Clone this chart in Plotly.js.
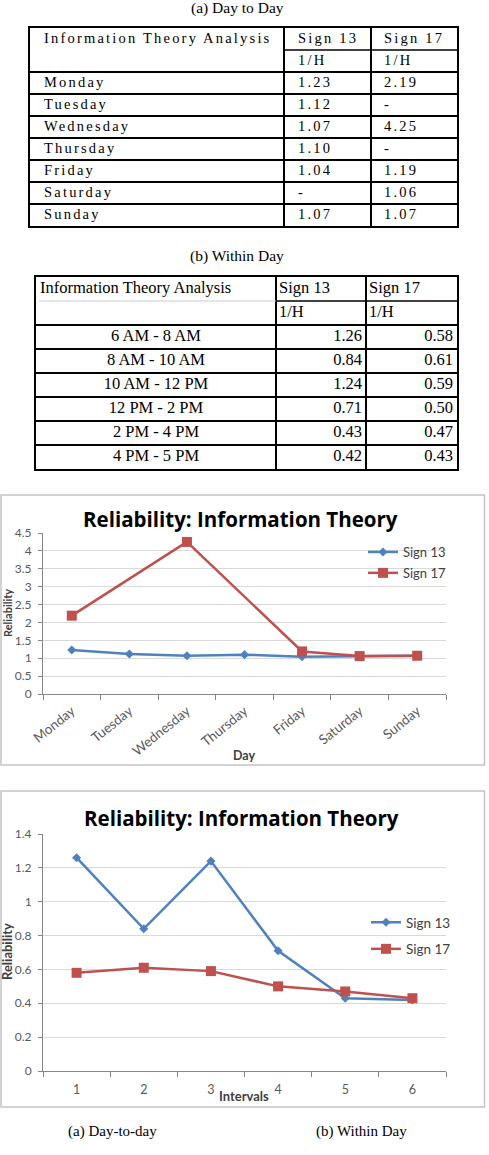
<!DOCTYPE html>
<html><head><meta charset="utf-8">
<script src="https://cdn.plot.ly/plotly-3.0.1.min.js"></script>
<style>
html,body{margin:0;padding:0;background:#fff;}
#chart{width:489px;height:1155px;}
.subplot.x3y3 .textpoint text{letter-spacing:2.2px;}
</style></head><body><div id="chart"></div>
<script>
// ---------- data ----------
const days = ['Monday','Tuesday','Wednesday','Thursday','Friday','Saturday','Sunday'];
const daySign13 = [1.23, 1.12, 1.07, 1.10, 1.04, null, 1.07];
const daySign17 = [2.19, null, 4.25, null, 1.19, 1.06, 1.07];
const intervalLabels = ['6 AM - 8 AM','8 AM - 10 AM','10 AM - 12 PM','12 PM - 2 PM','2 PM - 4 PM','4 PM - 5 PM'];
const intervalTicks = ['1','2','3','4','5','6'];
const intervalSign13 = [1.26, 0.84, 1.24, 0.71, 0.43, 0.42];
const intervalSign17 = [0.58, 0.61, 0.59, 0.50, 0.47, 0.43];
const tableHeaders = ['Information Theory Analysis','Sign 13','Sign 17'];
const unitLabel = '1/H';
const seriesNames = ['Sign 13','Sign 17'];
const chartTitle = 'Reliability: Information Theory';
const yTitle = 'Reliability';
const xTitleDay = 'Day';
const xTitleInterval = 'Intervals';
const tableTitles = ['(a) Day to Day','(b) Within Day'];
const captions = ['(a) Day-to-day','(b) Within Day'];

// ---------- styling helpers ----------
const W = 489, H = 1155;
const px = p => p / W;
const py = p => 1 - p / H;
const SERIF = 'Liberation Serif, Times New Roman, serif';
const SANS = 'Lato, Calibri, Carlito, sans-serif';
const TITLE = 'Open Sans, Calibri, sans-serif';
const BLUE = '#4F81BD', RED = '#C0504D';
const fmt = v => (v === null || v === undefined) ? '-' : v.toFixed(2);

// table geometry (in table-axis units = px)
const t1 = {cols:[0,254,341,427], pad:14};
const t2 = {cols:[0,240,330,421], pad:4};

const traces = [];
const txt = (x, y, text, pos, ax, font) => ({
  type:'scatter', mode:'text', x, y, text, textposition:pos,
  textfont:font, xaxis:'x'+ax, yaxis:'y'+ax, showlegend:false, hoverinfo:'skip', cliponaxis:false
});
const f1 = {family:SERIF, size:14.5, color:'#000'};
const f2 = {family:SERIF, size:16.5, color:'#000'};

// Table 1
const rows1 = days.map((d,i)=>i+2.5);
traces.push(txt([t1.pad, ...days.map(()=>t1.pad)], [0.5, ...rows1], [tableHeaders[0], ...days], 'middle right', 3, f1));
traces.push(txt([0,0, ...days].map(()=>t1.cols[1]+t1.pad), [0.5,1.5, ...rows1], [tableHeaders[1], unitLabel, ...daySign13.map(fmt)], 'middle right', 3, f1));
traces.push(txt([0,0, ...days].map(()=>t1.cols[2]+t1.pad-1), [0.5,1.5, ...rows1], [tableHeaders[2], unitLabel, ...daySign17.map(fmt)], 'middle right', 3, f1));

// Table 2
const rows2 = intervalLabels.map((d,i)=>i+2.5);
traces.push(txt([t2.pad], [0.5], [tableHeaders[0]], 'middle right', 4, f2));
traces.push(txt(intervalLabels.map(()=>t2.cols[1]/2), rows2, intervalLabels, 'middle center', 4, f2));
traces.push(txt([t2.cols[1]+3, t2.cols[1]+3], [0.5,1.5], [tableHeaders[1], unitLabel], 'middle right', 4, f2));
traces.push(txt(intervalLabels.map(()=>t2.cols[2]-t2.pad), rows2, intervalSign13.map(fmt), 'middle left', 4, f2));
traces.push(txt([t2.cols[2]+3, t2.cols[2]+3], [0.5,1.5], [tableHeaders[2], unitLabel], 'middle right', 4, f2));
traces.push(txt(intervalLabels.map(()=>t2.cols[3]-t2.pad), rows2, intervalSign17.map(fmt), 'middle left', 4, f2));

// Charts
const s13 = (x, y, xa, ya, lg) => ({type:'scatter', mode:'lines+markers', x, y, name:seriesNames[0], connectgaps:true,
  line:{color:BLUE, width:2.5}, marker:{symbol:'diamond', size:7, color:BLUE},
  xaxis:xa, yaxis:ya, legend:lg, legendgroup:lg+'a', hoverinfo:'skip'});
const s17 = (x, y, xa, ya, lg) => ({type:'scatter', mode:'lines+markers', x, y, name:seriesNames[1], connectgaps:true,
  line:{color:RED, width:2.5}, marker:{symbol:'square', size:10, color:RED},
  xaxis:xa, yaxis:ya, legend:lg, legendgroup:lg+'b', hoverinfo:'skip'});
traces.push(s13(days, daySign13, 'x', 'y', 'legend'));
traces.push(s17(days, daySign17, 'x', 'y', 'legend'));
traces.push(s13(intervalTicks, intervalSign13, 'x2', 'y2', 'legend2'));
traces.push(s17(intervalTicks, intervalSign17, 'x2', 'y2', 'legend2'));

const tickFont = {family:SANS, size:12, color:'#595959'};
const chartX = (dom, yref, n, angle, fsize, standoff) => ({domain:dom, anchor:yref, type:'category', range:[-0.5, n-0.5],
  tickson:'boundaries', ticks:'outside', ticklen:5, tickcolor:'#868686', showline:true, linecolor:'#868686', linewidth:1,
  showgrid:false, zeroline:false, tickangle:angle, tickfont:{family:SANS, size:fsize, color:'#595959'},
  ticklabelstandoff:standoff, fixedrange:true});
const chartY = (dom, xref, range, dtick) => ({domain:dom, anchor:xref, range, dtick, tick0:0,
  ticks:'outside', ticklen:4, tickcolor:'#868686', showline:true, linecolor:'#868686', linewidth:1,
  showgrid:true, gridcolor:'#d9d9d9', gridwidth:1, zeroline:false, tickfont:tickFont, ticklabelstandoff:4, fixedrange:true});
const tableX = (dom, yref, cols) => ({domain:dom, anchor:yref, range:[cols[0], cols[3]], tickvals:[cols[1], cols[2]],
  showgrid:true, gridcolor:'#000', gridwidth:1.5, showticklabels:false, ticks:'', zeroline:false,
  showline:true, mirror:true, linecolor:'#000', linewidth:2, fixedrange:true});
const tableY = (dom, xref, n, vals) => ({domain:dom, anchor:xref, range:[n,0], tickvals:vals,
  showgrid:true, gridcolor:'#000', gridwidth:1.5, showticklabels:false, ticks:'', zeroline:false,
  showline:true, mirror:true, linecolor:'#000', linewidth:2, fixedrange:true});

const ann = (text, x, y, font, extra) => Object.assign({text, x:px(x), y:py(y), xref:'paper', yref:'paper',
  showarrow:false, xanchor:'center', yanchor:'middle', font}, extra||{});

const layout = {
  width:W, height:H, margin:{l:0,r:0,t:0,b:0}, paper_bgcolor:'#fff', plot_bgcolor:'rgba(0,0,0,0)',
  hovermode:false, showlegend:true,
  xaxis: chartX([px(43), px(446)], 'y', days.length, -39, 13.5, 3),
  yaxis: chartY([py(694), py(533)], 'x', [0,4.5], 0.5),
  xaxis2: chartX([px(43), px(446)], 'y2', intervalTicks.length, 0, 12.5, 7),
  yaxis2: chartY([py(1071), py(834)], 'x2', [0,1.4], 0.2),
  xaxis3: tableX([px(30), px(457)], 'y3', t1.cols),
  yaxis3: tableY([py(226), py(28)], 'x3', 9, [2,3,4,5,6,7,8]),
  xaxis4: tableX([px(36), px(457)], 'y4', t2.cols),
  yaxis4: tableY([py(469), py(277)], 'x4', 8, [2,3,4,5,6,7]),
  legend: {x:px(363), y:py(537), xanchor:'left', yanchor:'top', bgcolor:'rgba(0,0,0,0)',
    font:{family:SANS, size:13, color:'#404040'}, traceorder:'grouped', tracegroupgap:1, itemwidth:30},
  legend2: {x:px(366), y:py(907), xanchor:'left', yanchor:'top', bgcolor:'rgba(0,0,0,0)',
    font:{family:SANS, size:13.5, color:'#404040'}, traceorder:'grouped', tracegroupgap:6, itemwidth:30},
  shapes: [
    {type:'line', xref:'x3', yref:'y3', x0:t1.cols[1], x1:t1.cols[3], y0:1, y1:1, line:{color:'#000', width:1.5}},
    {type:'line', xref:'x4', yref:'y4', x0:t2.cols[1], x1:t2.cols[3], y0:1, y1:1, line:{color:'#000', width:1.5}},
    {type:'line', xref:'x4', yref:'y4', x0:t2.cols[0]+3, x1:t2.cols[1], y0:1, y1:1, line:{color:'#c9cbd8', width:1}},
    {type:'rect', xref:'paper', yref:'paper', x0:px(1), x1:px(484.5), y0:py(765), y1:py(495), line:{color:'#c4c4c4', width:1.5}},
    {type:'rect', xref:'paper', yref:'paper', x0:px(1), x1:px(484.5), y0:py(1107), y1:py(791), line:{color:'#c4c4c4', width:1.5}}
  ],
  annotations: [
    ann(tableTitles[0], 237, 8, {family:SERIF, size:15.5, color:'#000'}),
    ann(tableTitles[1], 237, 256, {family:SERIF, size:15.5, color:'#000'}),
    ann(chartTitle, 240, 519, {family:TITLE, size:20.5, color:'#000', weight:'bold'}),
    ann(chartTitle, 241, 818, {family:TITLE, size:20.5, color:'#000', weight:'bold'}),
    ann(xTitleDay, 244, 755, {family:SANS, size:12.5, color:'#404040', weight:'bold'}),
    ann(yTitle, 7, 613, {family:SANS, size:11, color:'#404040', weight:'bold'}, {textangle:-90}),
    ann(xTitleInterval, 244, 1096, {family:SANS, size:13, color:'#404040', weight:'bold'}),
    ann(yTitle, 7, 952, {family:SANS, size:13, color:'#404040', weight:'bold'}, {textangle:-90}),
    ann(captions[0], 112, 1131, {family:SERIF, size:15, color:'#000'}),
    ann(captions[1], 361, 1131, {family:SERIF, size:15, color:'#000'})
  ]
};

Plotly.newPlot('chart', traces, layout, {staticPlot:true, displayModeBar:false});
</script></body></html>
